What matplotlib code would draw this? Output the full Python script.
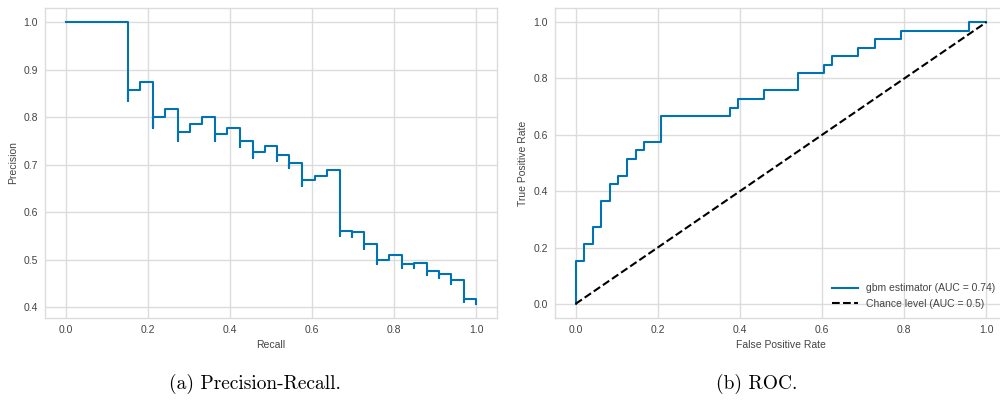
import numpy as np
import matplotlib
matplotlib.use("Agg")
from matplotlib import pyplot as plt

# precision-recall: one entry per recall level, lowest and highest precision seen at that level
recall_levels = [1.0, 0.970, 0.939, 0.909, 0.879, 0.848, 0.818, 0.788, 0.758, 0.727, 0.697,
                 0.667, 0.636, 0.606, 0.576, 0.545, 0.515, 0.485, 0.455, 0.424, 0.394,
                 0.364, 0.333, 0.303, 0.273, 0.242, 0.212, 0.182, 0.152, 0.0]
precision_low = [0.407, 0.410, 0.449, 0.462, 0.468, 0.483, 0.482, 0.500, 0.490, 0.522, 0.548,
                 0.550, 0.677, 0.667, 0.655, 0.692, 0.708, 0.727, 0.714, 0.737, 0.765,
                 0.750, 0.786, 0.769, 0.750, 0.800, 0.778, 0.857, 0.833, 1.0]
precision_high = [0.418, 0.457, 0.470, 0.476, 0.492, 0.491, 0.509, 0.500, 0.532, 0.558, 0.561,
                  0.688, 0.677, 0.667, 0.704, 0.720, 0.739, 0.727, 0.750, 0.778, 0.765,
                  0.800, 0.786, 0.769, 0.818, 0.800, 0.875, 0.857, 1.0, 1.0]

# roc: false positive rate where the true positive rate jumps, and the level after the jump
roc_fpr = [0.0, 0.0, 0.021, 0.042, 0.0625, 0.083, 0.104, 0.125, 0.146, 0.167, 0.208, 0.375,
           0.396, 0.458, 0.542, 0.604, 0.625, 0.6875, 0.729, 0.792, 0.958, 1.0]
roc_tpr = [0.0, 0.152, 0.212, 0.273, 0.364, 0.424, 0.455, 0.515, 0.545, 0.576, 0.667, 0.697,
           0.727, 0.758, 0.818, 0.848, 0.879, 0.909, 0.939, 0.970, 1.0, 1.0]
roc_auc = 0.74

line_color = "#0173b2"
grid_color = "#dcdcdc"
text_color = "#444444"

plt.rcParams["font.family"] = ["Liberation Sans", "DejaVu Sans"]
plt.rcParams["font.size"] = 7.5
plt.rcParams["text.color"] = text_color
plt.rcParams["axes.labelcolor"] = text_color
plt.rcParams["xtick.color"] = text_color
plt.rcParams["ytick.color"] = text_color

fig = plt.figure(figsize=(10, 4.03), dpi=100)
ax1 = fig.add_axes([0.045, 0.211, 0.452, 0.769])
ax2 = fig.add_axes([0.555, 0.211, 0.452, 0.769])

for ax in (ax1, ax2):
    ax.set_facecolor("white")
    ax.grid(True, color=grid_color, linewidth=1.0)
    ax.set_axisbelow(True)
    for s in ax.spines.values():
        s.set_color(grid_color)
        s.set_linewidth(1.0)
    ax.tick_params(length=0, pad=5, labelsize=7.5)

# build the sklearn-like point order (high recall first), drawn with steps-post
pr_x = np.repeat(recall_levels, 2)
pr_y = np.column_stack([precision_low, precision_high]).ravel()
ax1.plot(pr_x, pr_y, drawstyle="steps-post", color=line_color, linewidth=1.5)
ax1.set_xlabel("Recall")
ax1.set_ylabel("Precision")
ax1.set_xticks([0.0, 0.2, 0.4, 0.6, 0.8, 1.0])
ax1.set_yticks([0.4, 0.5, 0.6, 0.7, 0.8, 0.9, 1.0])

ax2.plot(roc_fpr, roc_tpr, drawstyle="steps-post", color=line_color, linewidth=1.5,
         label=f"gbm estimator (AUC = {roc_auc:.2f})")
ax2.plot([0, 1], [0, 1], "k--", linewidth=1.5, label="Chance level (AUC = 0.5)")
ax2.set_xlabel("False Positive Rate")
ax2.set_ylabel("True Positive Rate")
ax2.set_xticks([0.0, 0.2, 0.4, 0.6, 0.8, 1.0])
ax2.set_yticks([0.0, 0.2, 0.4, 0.6, 0.8, 1.0])
ax2.legend(loc="lower right", frameon=False, fontsize=7.5, handlelength=2.5,
           bbox_to_anchor=(0.995, 0.0))

fig.text(0.255, 0.035, "(a) Precision-Recall.", family="cmr10", fontsize=14,
         ha="center", va="baseline", color="black")
fig.text(0.757, 0.035, "(b) ROC.", family="cmr10", fontsize=14,
         ha="center", va="baseline", color="black")

fig.savefig("out.png", dpi=100, facecolor="white")
